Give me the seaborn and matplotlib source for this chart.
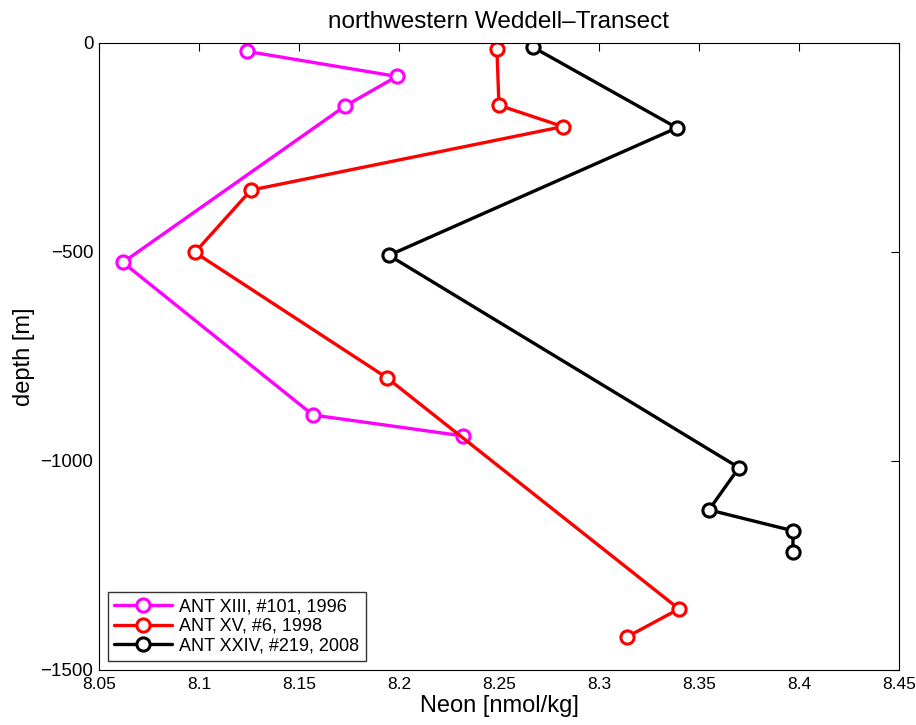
import matplotlib
matplotlib.use("Agg")
import matplotlib.pyplot as plt
import seaborn as sns
import pandas as pd

# --- data -------------------------------------------------------------
ant13_neon = [8.124, 8.199, 8.173, 8.062, 8.157, 8.232]
ant13_depth = [-20, -80, -151, -525, -890, -940]

ant15_neon = [8.249, 8.250, 8.282, 8.126, 8.098, 8.194, 8.340, 8.314]
ant15_depth = [-15, -149, -200, -352, -501, -801, -1354, -1421]

ant24_neon = [8.267, 8.339, 8.195, 8.370, 8.355, 8.397, 8.397]
ant24_depth = [-10, -203, -508, -1016, -1117, -1167, -1218]

labels = ["ANT XIII, #101, 1996", "ANT XV, #6, 1998", "ANT XXIV, #219, 2008"]
colors = ["#ff00ff", "#ff0000", "#000000"]

x_ticks = [8.05, 8.1, 8.15, 8.2, 8.25, 8.3, 8.35, 8.4, 8.45]
y_ticks = [-1500, -1000, -500, 0]

# --- style ------------------------------------------------------------
sns.set_style("white")
plt.rcParams["font.family"] = ["Liberation Sans", "DejaVu Sans"]
plt.rcParams["xtick.direction"] = "in"
plt.rcParams["ytick.direction"] = "in"
plt.rcParams["text.color"] = "black"
plt.rcParams["axes.labelcolor"] = "black"
plt.rcParams["xtick.color"] = "black"
plt.rcParams["ytick.color"] = "black"

fig = plt.figure(figsize=(9.16, 7.25), dpi=100)
ax = fig.add_axes([0.108, 0.0759, 0.8734, 0.8648])

series = [(ant13_neon, ant13_depth), (ant15_neon, ant15_depth), (ant24_neon, ant24_depth)]
for (xs, ys), lab, col in zip(series, labels, colors):
    df = pd.DataFrame({"neon": xs, "depth": ys})
    sns.lineplot(data=df, x="neon", y="depth", sort=False, estimator=None,
                 ax=ax, color=col, label=lab, linewidth=2.4,
                 marker="o", markersize=9.5, markerfacecolor="white",
                 markeredgecolor=col, markeredgewidth=2.2)

ax.set_xlim(8.05, 8.45)
ax.set_ylim(-1500, 0)
ax.set_xticks(x_ticks)
ax.set_xticklabels([f"{v:g}" for v in x_ticks])
ax.set_yticks(y_ticks)
ax.tick_params(axis="both", which="both", direction="in", length=6, width=0.8,
               top=True, right=True, colors="black", labelcolor="black")
ax.tick_params(axis="x", pad=5, labelsize=12.5)
ax.tick_params(axis="y", pad=4, labelsize=13.5)
for s in ax.spines.values():
    s.set_color("black")
    s.set_linewidth(0.8)

ax.set_xlabel("Neon [nmol/kg]", fontsize=17, labelpad=2, color="black")
ax.set_ylabel("depth [m]", fontsize=17, labelpad=4, color="black")
ax.set_title("northwestern Weddell\u2013Transect", fontsize=17.5, pad=11, color="black")

leg = ax.legend(loc="lower left", fontsize=13, frameon=True, fancybox=False,
                edgecolor="black", borderaxespad=0.5, handlelength=3.2,
                labelspacing=0.15, borderpad=0.35, handletextpad=0.4)
leg.get_frame().set_linewidth(1.0)
for t in leg.get_texts():
    t.set_color("black")

fig.savefig("out.png", dpi=100, facecolor="white")
